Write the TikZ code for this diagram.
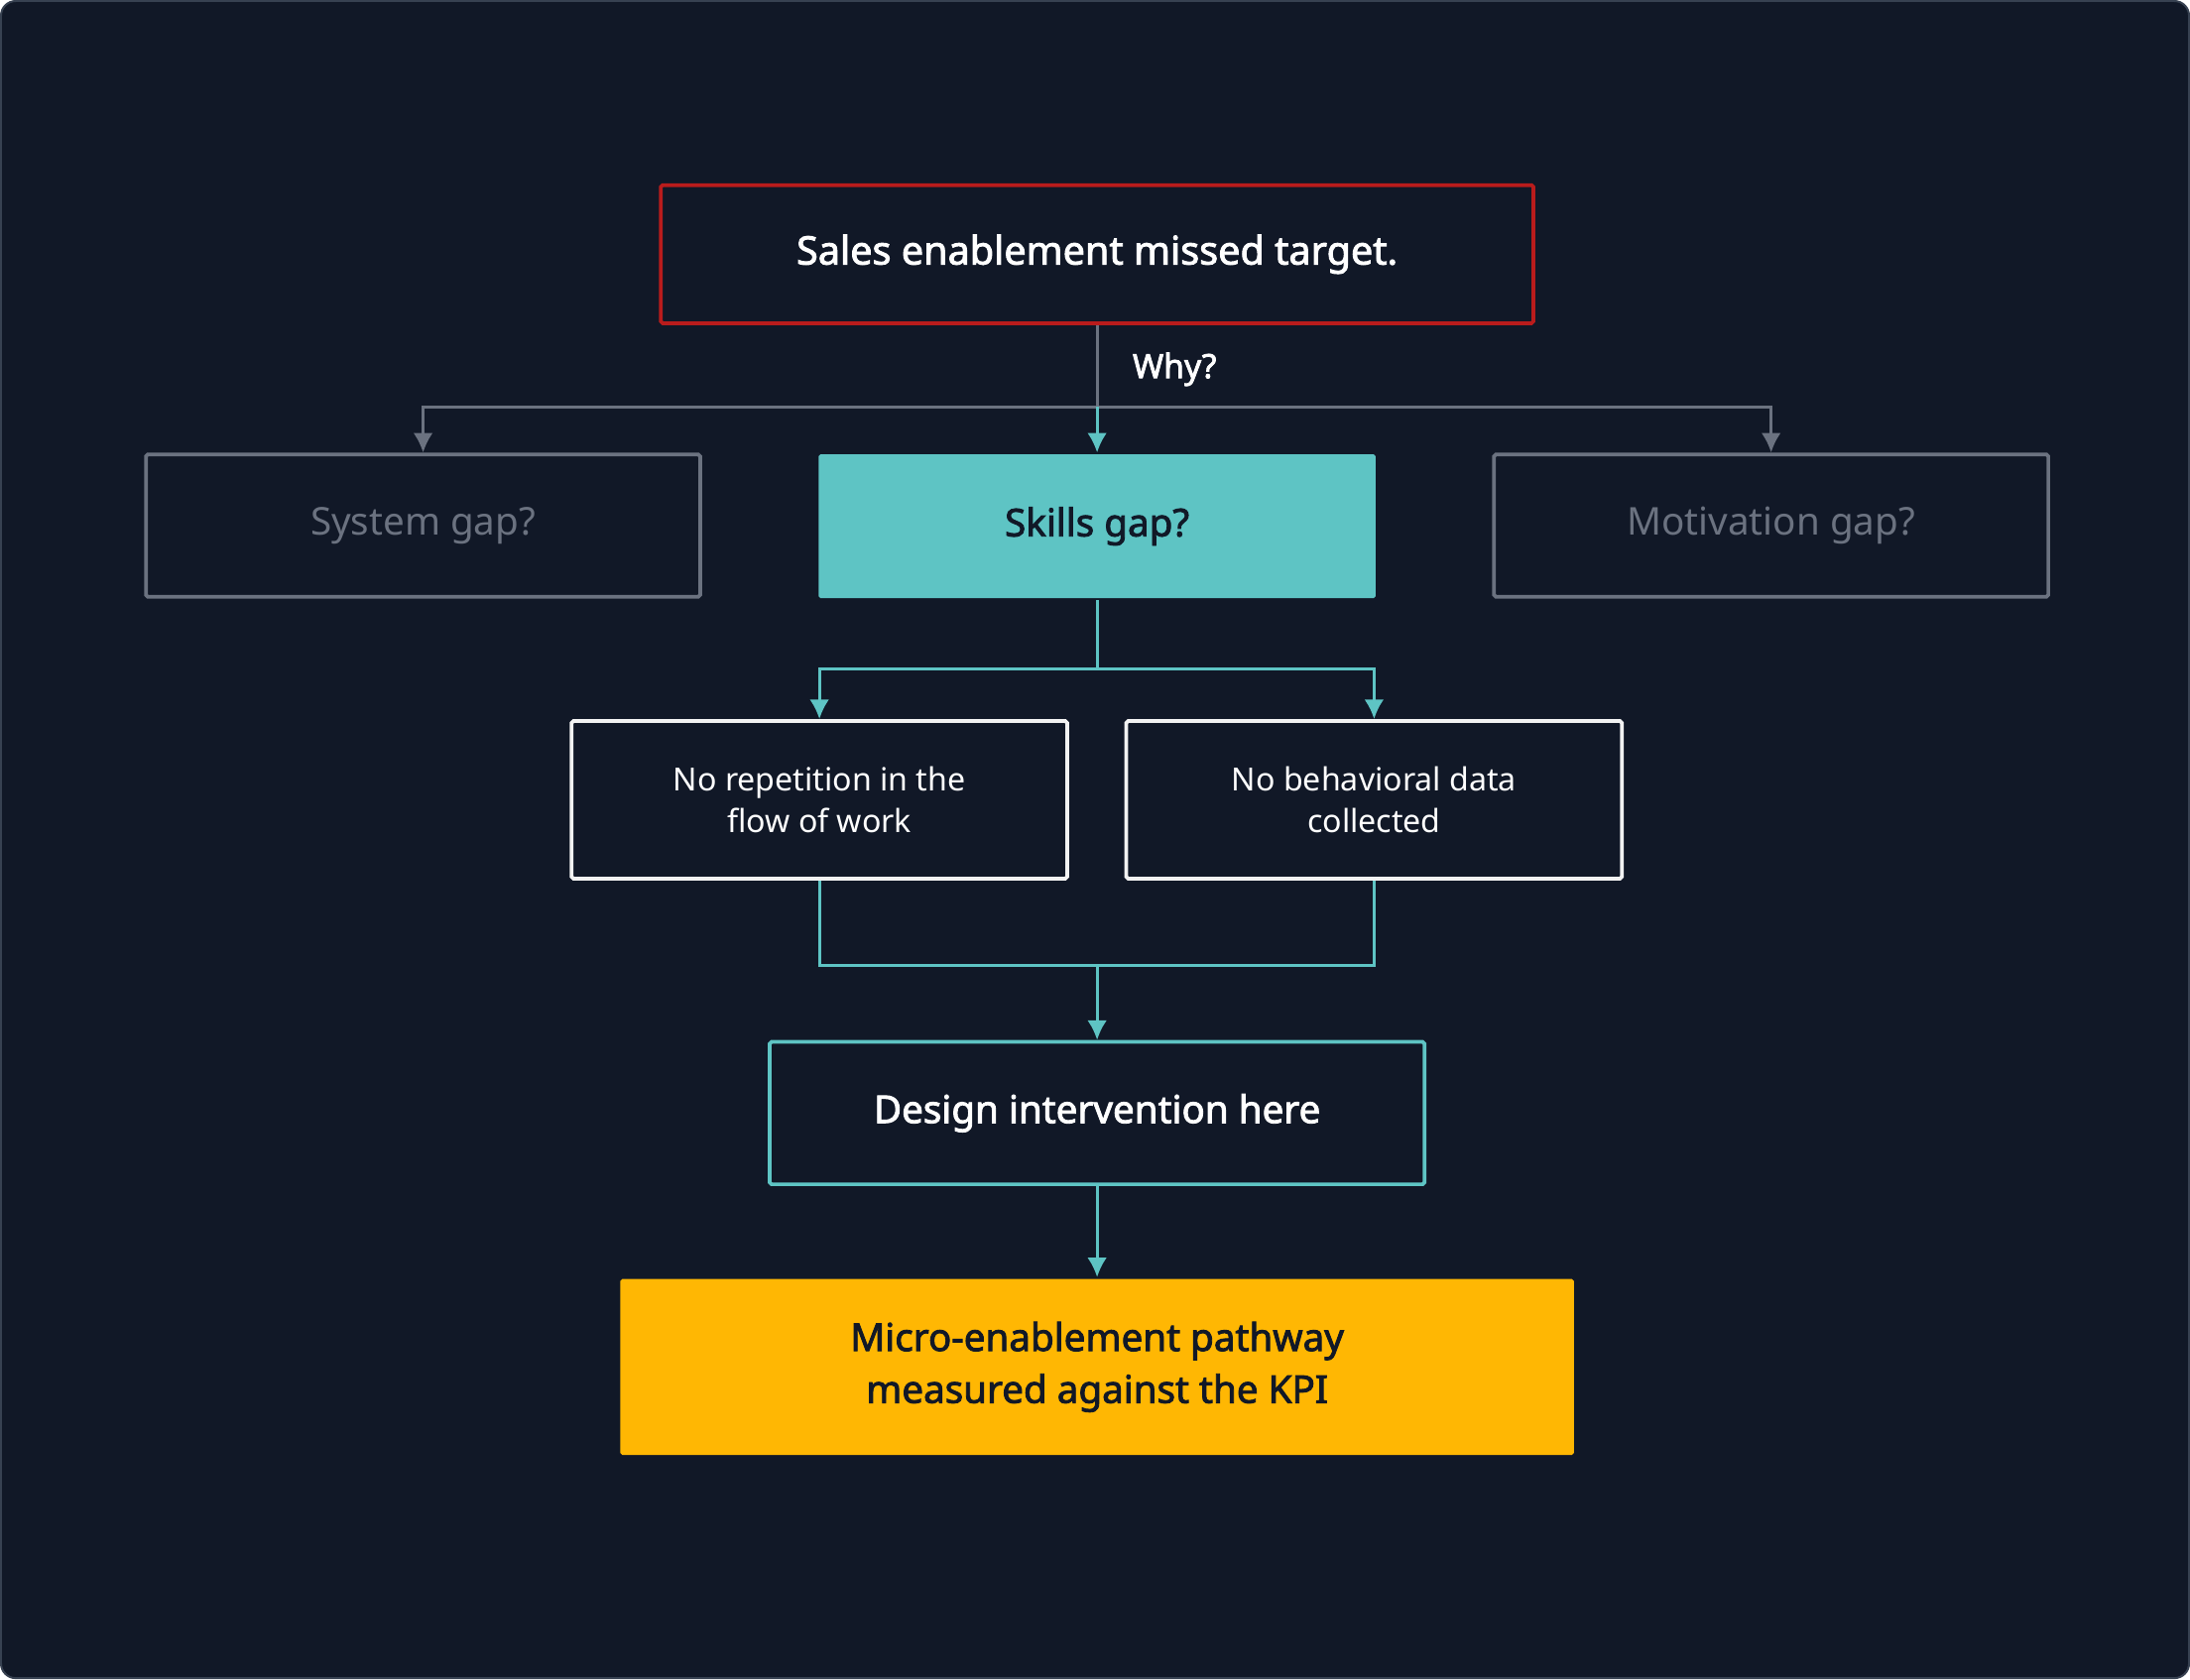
\documentclass[tikz,border=0pt]{standalone}
\usepackage{fontspec}
\setmainfont{Noto Sans}[BoldFont={Noto Sans}, BoldFeatures={FakeBold=2.2}]
\usetikzlibrary{positioning,arrows.meta}
\definecolor{bgc}{HTML}{111827}
\definecolor{edgec}{HTML}{374151}
\definecolor{redc}{HTML}{B91C1C}
\definecolor{grayc}{HTML}{6B7280}
\definecolor{tealc}{HTML}{5EC4C4}
\definecolor{goldc}{HTML}{FFB703}
\definecolor{darkc}{HTML}{111827}
\tikzset{
	boxnode/.style={rectangle, rounded corners=0.4pt, line width=0.75pt, align=center, inner sep=0pt},
	graynode/.style={boxnode, draw=grayc, text=grayc, font=\fontsize{7.8}{9}\selectfont, minimum width=3.97cm, minimum height=1.02cm},
	whitenode/.style={boxnode, draw=white!90!gray, text=white, font=\fontsize{6.5}{8.6}\selectfont, minimum width=3.55cm, minimum height=1.13cm},
	conn/.style={line width=0.6pt, -{Latex[length=4pt,width=4pt]}}
}
\begin{document}
\begin{tikzpicture}[x=0.01cm,y=-0.01cm]
	\draw[fill=bgc, draw=edgec, rounded corners=3pt] (0,0) rectangle (1568,1202);
	% top row
	\node[boxnode, draw=redc, text=white, font=\bfseries\fontsize{8}{9}\selectfont, minimum width=6.25cm, minimum height=0.99cm] at (785.5,181.5) (target) {Sales enablement missed target.};
	\node[graynode] at (302.5,376) (sys) {System gap?};
	\node[boxnode, fill=tealc, text=darkc, font=\bfseries\fontsize{7.8}{9}\selectfont, minimum width=3.99cm, minimum height=1.03cm] at (785.5,376.5) (skills) {Skills gap?};
	\node[graynode] at (1268.5,376) (motiv) {Motivation gap?};
	\node[font=\bfseries\fontsize{6.8}{8}\selectfont, text=white] at (841,264) (why) {Why?};
	% causes
	\node[whitenode] at (586.5,572.5) (rep) {No repetition in the\\flow of work};
	\node[whitenode] at (984,572.5) (data) {No behavioral data\\collected};
	\node[boxnode, draw=tealc, text=white, font=\bfseries\fontsize{7.8}{9}\selectfont, minimum width=4.69cm, minimum height=1.02cm] at (785.5,797) (design) {Design intervention here};
	\node[boxnode, fill=goldc, text=darkc, font=\bfseries\fontsize{7.8}{10.6}\selectfont, minimum width=6.83cm, minimum height=1.26cm] at (785.5,979) (kpi) {Micro-enablement pathway\\measured against the KPI};
	%Lines
	\coordinate (split) at (785.5,291);
	\draw[line width=0.6pt, grayc] (target) -- (split);
	\draw[conn, grayc] (split) -| (sys);
	\draw[conn, grayc] (split) -| (motiv);
	\draw[conn, tealc] (split) -- (skills);
	\coordinate (split2) at (785.5,479);
	\draw[line width=0.6pt, tealc] (skills) -- (split2);
	\draw[conn, tealc] (split2) -| (rep);
	\draw[conn, tealc] (split2) -| (data);
	\coordinate (merge) at (785.5,691);
	\draw[line width=0.6pt, tealc] (rep) |- (merge);
	\draw[line width=0.6pt, tealc] (data) |- (merge);
	\draw[conn, tealc] (merge) -- (design);
	\draw[conn, tealc] (design) -- (kpi);
\end{tikzpicture}
\end{document}
